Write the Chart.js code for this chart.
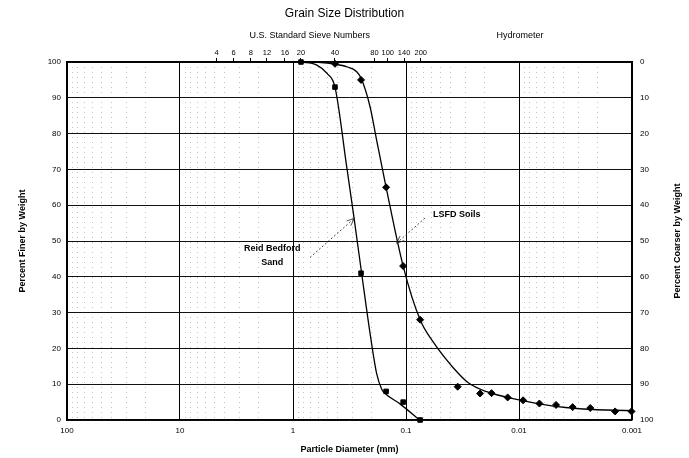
<!DOCTYPE html>
<html>
<head>
    <meta charset="utf-8" />
    <title>Grain Size Distribution</title>
    <style>
        html, body {
            margin: 0;
            padding: 0;
            background: #ffffff;
        }
    </style>
</head>
<body>
    <canvas id="grainChart" width="689" height="458"></canvas>

    <script src="https://cdn.jsdelivr.net/npm/chart.js"></script>
    <script>
        // bottom axis: particle diameter (mm), log scale, reversed
        const decadeTicks = [100, 10, 1, 0.1, 0.01, 0.001];
        const decadeLabels = ['100', '10', '1', '0.1', '0.01', '0.001'];

        // top axis: U.S. standard sieve numbers and where they sit (mm)
        const sieveNumbers = ['4', '6', '8', '12', '16', '20', '40', '80', '100', '140', '200'];
        const sieveSizes = [4.75, 3.35, 2.36, 1.70, 1.18, 0.85, 0.425, 0.19, 0.145, 0.104, 0.074];

        // left axis = percent finer, right axis = percent coarser
        const finerTicks = [0, 10, 20, 30, 40, 50, 60, 70, 80, 90, 100];

        // Reid Bedford Sand - test points
        const reidDiam = [0.85, 0.425, 0.25, 0.15, 0.106, 0.075];
        const reidFiner = [100, 93, 41, 8, 5, 0];
        // Reid Bedford Sand - drawn curve
        const reidCurveDiam = [0.85, 0.62, 0.5, 0.425, 0.335, 0.292, 0.247, 0.208, 0.182, 0.164, 0.153, 0.113, 0.076];
        const reidCurveFiner = [100, 99.2, 96.8, 93, 70.8, 57.7, 41, 24.2, 13, 8.6, 7.4, 4.5, 0];

        // LSFD Soils - sieve + hydrometer points
        const lsfdDiam = [0.425, 0.25, 0.15, 0.106, 0.075, 0.0349, 0.0221, 0.0175, 0.0126, 0.0092, 0.0066, 0.0047, 0.00335, 0.00234, 0.00141, 0.00101];
        const lsfdFiner = [99.5, 95, 65, 43, 28, 9.3, 7.4, 7.5, 6.3, 5.5, 4.6, 4.2, 3.6, 3.35, 2.4, 2.4];
        // LSFD Soils - drawn curve
        const lsfdCurveDiam = [0.85, 0.6, 0.425, 0.33, 0.273, 0.25, 0.208, 0.182, 0.15, 0.106, 0.075, 0.0575, 0.0382, 0.0281, 0.0193, 0.01, 0.0053, 0.0027, 0.001];
        const lsfdCurveFiner = [100, 99.9, 99.4, 98.6, 97.3, 95.5, 87.5, 78.2, 65, 43, 28, 21.8, 14.6, 10.4, 7.9, 5.6, 4.0, 3.07, 2.6];

        // where the free text sits, in data units (diameter, percent finer)
        const headerLabels = ['U.S. Standard Sieve Numbers', 'Hydrometer'];
        const headerAt = [0.71, 0.0098];

        const fontFamily = "'Liberation Sans', Arial, sans-serif";
        Chart.defaults.font.family = fontFamily;
        Chart.defaults.color = '#000';

        function toPoints(xs, ys) {
            return xs.map((v, i) => ({ x: v, y: ys[i] }));
        }

        // minor grid positions 2..9 in each decade
        const minorTicks = [];
        [0.001, 0.01, 0.1, 1, 10].forEach(d => {
            for (let m = 2; m <= 9; m++) minorTicks.push(+(m * d).toPrecision(3));
        });

        function drawArrow(ctx, x1, y1, x2, y2) {
            ctx.save();
            ctx.strokeStyle = '#222';
            ctx.lineWidth = 0.8;
            ctx.setLineDash([2, 2]);
            ctx.beginPath();
            ctx.moveTo(x1, y1);
            ctx.lineTo(x2, y2);
            ctx.stroke();
            ctx.setLineDash([]);
            const a = Math.atan2(y2 - y1, x2 - x1);
            ctx.beginPath();
            ctx.moveTo(x2 - 8 * Math.cos(a - 0.4), y2 - 8 * Math.sin(a - 0.4));
            ctx.lineTo(x2, y2);
            ctx.lineTo(x2 - 8 * Math.cos(a + 0.4), y2 - 8 * Math.sin(a + 0.4));
            ctx.stroke();
            ctx.restore();
        }

        const textPlugin = {
            id: 'textPlugin',
            afterDraw(chart) {
                const { ctx, chartArea } = chart;
                const x = chart.scales.x;
                const y = chart.scales.y;
                ctx.save();
                ctx.fillStyle = '#000';
                ctx.textAlign = 'center';
                ctx.textBaseline = 'middle';

                ctx.font = '12px ' + fontFamily;
                ctx.fillText('Grain Size Distribution', chart.width / 2, 14);

                ctx.font = '9px ' + fontFamily;
                headerLabels.forEach((t, i) => {
                    ctx.fillText(t, x.getPixelForValue(headerAt[i]), 36);
                });

                // right axis title, reading bottom to top
                ctx.save();
                ctx.font = 'bold 9px ' + fontFamily;
                ctx.translate(678, (chartArea.top + chartArea.bottom) / 2);
                ctx.rotate(-Math.PI / 2);
                ctx.fillText('Percent Coarser by Weight', 0, 0);
                ctx.restore();

                // curve labels
                ctx.font = 'bold 9px ' + fontFamily;
                ctx.fillText('Reid Bedford', x.getPixelForValue(1.53), y.getPixelForValue(47.8));
                ctx.fillText('Sand', x.getPixelForValue(1.53), y.getPixelForValue(44.1));
                ctx.textAlign = 'left';
                ctx.fillText('LSFD Soils', x.getPixelForValue(0.0577), y.getPixelForValue(57.5));

                drawArrow(ctx, x.getPixelForValue(0.707), y.getPixelForValue(45.4),
                    x.getPixelForValue(0.287), y.getPixelForValue(56.3));
                drawArrow(ctx, x.getPixelForValue(0.0679), y.getPixelForValue(56.4),
                    x.getPixelForValue(0.121), y.getPixelForValue(49.4));
                ctx.restore();
            }
        };

        const logRange = { min: 0.001, max: 100, reverse: true };

        const ctx = document.getElementById('grainChart').getContext('2d');
        const chart = new Chart(ctx, {
            type: 'scatter',
            data: {
                datasets: [
                    {
                        label: 'Reid Bedford Sand',
                        data: toPoints(reidDiam, reidFiner),
                        pointStyle: 'rect',
                        pointRadius: 3.2,
                        backgroundColor: '#000',
                        borderColor: '#000',
                        clip: false,
                        order: 0
                    },
                    {
                        label: 'LSFD Soils',
                        data: toPoints(lsfdDiam, lsfdFiner),
                        pointStyle: 'rectRot',
                        pointRadius: 3.5,
                        backgroundColor: '#000',
                        borderColor: '#000',
                        clip: false,
                        order: 0
                    },
                    {
                        label: 'Reid Bedford curve',
                        data: toPoints(reidCurveDiam, reidCurveFiner),
                        showLine: true,
                        pointRadius: 0,
                        borderColor: '#000',
                        borderWidth: 1.3,
                        cubicInterpolationMode: 'monotone',
                        order: 1
                    },
                    {
                        label: 'LSFD curve',
                        data: toPoints(lsfdCurveDiam, lsfdCurveFiner),
                        showLine: true,
                        pointRadius: 0,
                        borderColor: '#000',
                        borderWidth: 1.3,
                        cubicInterpolationMode: 'monotone',
                        order: 1
                    }
                ]
            },
            options: {
                responsive: false,
                animation: false,
                layout: { padding: 0 },
                plugins: {
                    legend: { display: false },
                    tooltip: { enabled: false }
                },
                scales: {
                    x: {
                        type: 'logarithmic',
                        position: 'bottom',
                        ...logRange,
                        afterBuildTicks: s => { s.ticks = decadeTicks.map(v => ({ value: v })); },
                        afterFit: s => { s.height = 38; },
                        ticks: {
                            autoSkip: false,
                            maxRotation: 0,
                            padding: 6,
                            font: { size: 8 },
                            callback: (v, i) => decadeLabels[i]
                        },
                        grid: { color: '#000', lineWidth: 1, drawTicks: false },
                        border: { color: '#000', width: 1.2 },
                        title: {
                            display: true,
                            text: 'Particle Diameter (mm)',
                            font: { size: 9, weight: 'bold' },
                            padding: { top: 0, bottom: 3 }
                        }
                    },
                    xMinor: {
                        type: 'logarithmic',
                        position: 'bottom',
                        ...logRange,
                        afterBuildTicks: s => { s.ticks = minorTicks.map(v => ({ value: v })); },
                        afterFit: s => { s.height = 0; },
                        ticks: { display: false },
                        grid: { color: '#b4b4b4', lineWidth: 0.8, drawTicks: false },
                        border: { display: false, dash: [1, 4] }
                    },
                    x2: {
                        type: 'logarithmic',
                        position: 'top',
                        ...logRange,
                        afterBuildTicks: s => { s.ticks = sieveSizes.map(v => ({ value: v })); },
                        afterFit: s => { s.height = 62; },
                        ticks: {
                            autoSkip: false,
                            maxRotation: 0,
                            padding: 1,
                            font: { size: 7.5 },
                            callback: (v, i) => sieveNumbers[i]
                        },
                        grid: { drawOnChartArea: false, color: '#000', tickLength: 4 },
                        border: { color: '#000', width: 1.5 }
                    },
                    y: {
                        type: 'linear',
                        position: 'left',
                        min: 0,
                        max: 100,
                        afterBuildTicks: s => { s.ticks = finerTicks.map(v => ({ value: v })); },
                        afterFit: s => { s.width = 67; },
                        ticks: { padding: 6, font: { size: 8 } },
                        grid: { color: '#111', lineWidth: 1, drawTicks: false },
                        border: { color: '#000', width: 1.2 },
                        title: {
                            display: true,
                            text: 'Percent Finer by Weight',
                            font: { size: 9, weight: 'bold' },
                            padding: { top: 17, bottom: 0 }
                        }
                    },
                    y2: {
                        type: 'linear',
                        position: 'right',
                        min: 0,
                        max: 100,
                        reverse: true,
                        afterBuildTicks: s => { s.ticks = finerTicks.map(v => ({ value: v })); },
                        afterFit: s => { s.width = 57; },
                        ticks: { padding: 8, font: { size: 8 } },
                        grid: { drawOnChartArea: false, drawTicks: false },
                        border: { color: '#000', width: 1.2 }
                    }
                }
            },
            plugins: [textPlugin]
        });
    </script>
</body>
</html>
